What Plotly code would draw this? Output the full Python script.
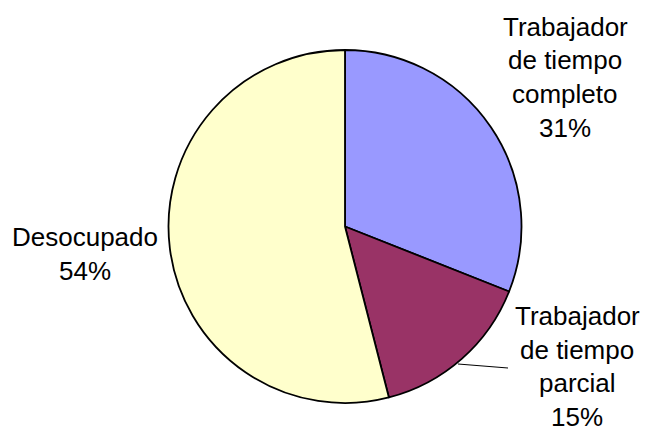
import plotly.graph_objects as go

# The page body has an 8px default margin, so the figure is drawn at (8, 8)
# inside the 650x430 window; all pixel positions below are window pixels.
OFF = 8
W, H = 650 - OFF, 430 - OFF

categories = ["Trabajador de tiempo completo", "Trabajador de tiempo parcial", "Desocupado"]
label_lines = [
    ["Trabajador", "de tiempo", "completo"],
    ["Trabajador", "de tiempo", "parcial"],
    ["Desocupado"],
]
values = [31, 15, 54]
colors = ["#9999FF", "#993366", "#FFFFCC"]

total = sum(values)
pcts = [f"{round(v / total * 100)}%" for v in values]


def px(x):
    return (x - OFF) / W


def py(y):
    return 1 - (y - OFF) / H


# pie geometry (window pixels)
cx, cy, r = 345, 226.5, 176.5

fig = go.Figure(
    go.Pie(
        labels=categories,
        values=values,
        sort=False,
        direction="clockwise",
        rotation=0,
        marker=dict(colors=colors, line=dict(color="black", width=1.8)),
        textinfo="none",
        hoverinfo="label+percent",
        showlegend=False,
        domain=dict(x=[px(cx - r), px(cx + r)], y=[py(cy + r), py(cy - r)]),
    )
)

# label placement (window-pixel centers of first line, line spacing)
label_pos = [(565, 27), (577, 316), (85, 237)]
spacing = 33.5
font = dict(family="Liberation Sans, Arial, sans-serif", size=26, color="black")

annotations = []
for lines, pct, (lx, ly) in zip(label_lines, pcts, label_pos):
    for i, t in enumerate(lines + [pct]):
        annotations.append(
            dict(
                x=px(lx), y=py(ly + i * spacing), xref="paper", yref="paper",
                text=t, showarrow=False, font=font,
                xanchor="center", yanchor="middle",
            )
        )

fig.update_layout(
    width=W, height=H,
    margin=dict(l=0, r=0, t=0, b=0),
    paper_bgcolor="white", plot_bgcolor="white",
    annotations=annotations,
    shapes=[
        dict(type="line", xref="paper", yref="paper",
             x0=px(458), y0=py(364), x1=px(508), y1=py(368),
             line=dict(color="black", width=1)),
    ],
)

fig.write_html("out.html")
